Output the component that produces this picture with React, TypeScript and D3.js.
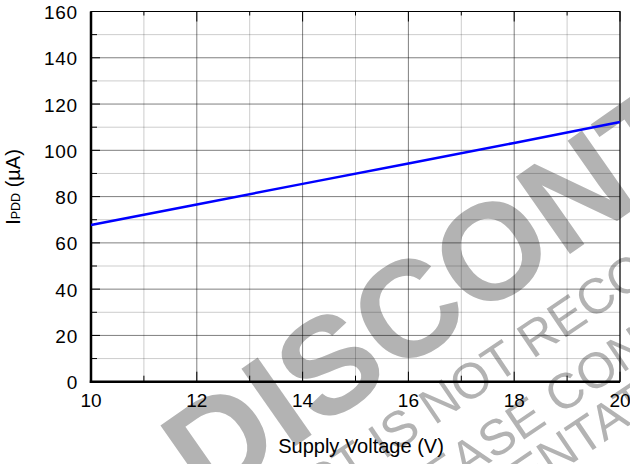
import React from "react";
import * as d3 from "d3";

// Supply current vs supply voltage
const voltage = [10, 12, 14, 16, 18, 20];
const ipdd = [67.7, 76.6, 85.5, 94.3, 103.2, 112.2];

const xTicks = [10, 12, 14, 16, 18, 20];
const xMinor = [11, 13, 15, 17, 19];
const yTicks = [0, 20, 40, 60, 80, 100, 120, 140, 160];
const yMinor = [10, 30, 50, 70, 90, 110, 130, 150];

const W = 630;
const H = 464;
const m = { left: 91, right: 10, top: 11.5, bottom: 82.3 };
const FONT = "'Liberation Sans', Arial, Helvetica, sans-serif";
const GREY = "#b3b3b3";

const App = () => {
  const x = d3.scaleLinear().domain([10, 20]).range([m.left, W - m.right]);
  const y = d3.scaleLinear().domain([0, 160]).range([H - m.bottom, m.top]);

  const line = d3
    .line<number>()
    .x((_, i) => x(voltage[i]))
    .y((d) => y(d));

  const x0 = x(10);
  const x1 = x(20);
  const y0 = y(0);
  const y1 = y(160);

  return (
    <svg
      width={W}
      height={H}
      style={{ position: "absolute", left: 0, top: 0, background: "#fff" }}
      fontFamily={FONT}
    >
      {/* watermark */}
      <g fill={GREY}>
        <text
          transform="translate(207,508) rotate(-35)"
          fontSize={137}
          fontWeight="bold"
        >
          DISCONTINUED
        </text>
        <text transform="translate(62,677) rotate(-34)" fontSize={50}>
          THIS PRODUCT IS NOT RECOMMENDED FOR NEW DESIGNS
        </text>
        <text transform="translate(387,532) rotate(-34)" fontSize={50}>
          PLEASE CONTACT YOUR LOCAL
        </text>
        <text transform="translate(354,611) rotate(-34)" fontSize={50}>
          REPRESENTATIVE
        </text>
      </g>

      {/* grid */}
      <g stroke="#000" strokeWidth={1}>
        {xMinor.map((v) => (
          <line key={"xm" + v} x1={x(v)} x2={x(v)} y1={y0} y2={y1} strokeOpacity={0.2} />
        ))}
        {yMinor.map((v) => (
          <line key={"ym" + v} x1={x0} x2={x1} y1={y(v)} y2={y(v)} strokeOpacity={0.2} />
        ))}
        {xTicks.map((v) => (
          <line key={"xg" + v} x1={x(v)} x2={x(v)} y1={y0} y2={y1} strokeOpacity={0.5} />
        ))}
        {yTicks.map((v) => (
          <line key={"yg" + v} x1={x0} x2={x1} y1={y(v)} y2={y(v)} strokeOpacity={0.5} />
        ))}
      </g>

      {/* tick marks */}
      <g stroke="#000" strokeWidth={1}>
        {xTicks.map((v) => (
          <g key={"xt" + v}>
            <line x1={x(v)} x2={x(v)} y1={y0} y2={y0 - 10} />
            <line x1={x(v)} x2={x(v)} y1={y1} y2={y1 + 10} />
          </g>
        ))}
        {xMinor.map((v) => (
          <g key={"xtm" + v}>
            <line x1={x(v)} x2={x(v)} y1={y0} y2={y0 - 6} />
            <line x1={x(v)} x2={x(v)} y1={y1} y2={y1 + 4} />
          </g>
        ))}
        {yTicks.map((v) => (
          <line key={"yt" + v} x1={x0} x2={x0 + 9} y1={y(v)} y2={y(v)} />
        ))}
        {yMinor.map((v) => (
          <line key={"ytm" + v} x1={x0} x2={x0 + 6} y1={y(v)} y2={y(v)} />
        ))}
      </g>

      {/* frame */}
      <rect x={x0} y={y1} width={x1 - x0} height={y0 - y1} fill="none" stroke="#000" strokeWidth={1} />
      <line x1={x0} x2={x0} y1={y1} y2={y0 + 1.2} stroke="#000" strokeWidth={2.5} />
      <line x1={x0 - 1.2} x2={x1} y1={y0} y2={y0} stroke="#000" strokeWidth={2.5} />

      {/* data */}
      <path d={line(ipdd) || ""} fill="none" stroke="#0000ff" strokeWidth={2.5} />

      {/* tick labels */}
      <g fontSize={19} fill="#000">
        {xTicks.map((v) => (
          <text key={"xl" + v} x={x(v)} y={406.5} textAnchor="middle">
            {v}
          </text>
        ))}
        {yTicks.map((v) => (
          <text
            key={"yl" + v}
            x={78}
            y={y(v) + 7.5}
            textAnchor="end"
            letterSpacing={0.8}
          >
            {v}
          </text>
        ))}
      </g>

      {/* axis titles */}
      <text x={361} y={453} textAnchor="middle" fontSize={20}>
        Supply Voltage (V)
      </text>
      <text transform="translate(20,187) rotate(-90)" textAnchor="middle" fontSize={20}>
        I<tspan fontSize={12.5}>PDD</tspan> (µA)
      </text>
    </svg>
  );
};

export default App;
